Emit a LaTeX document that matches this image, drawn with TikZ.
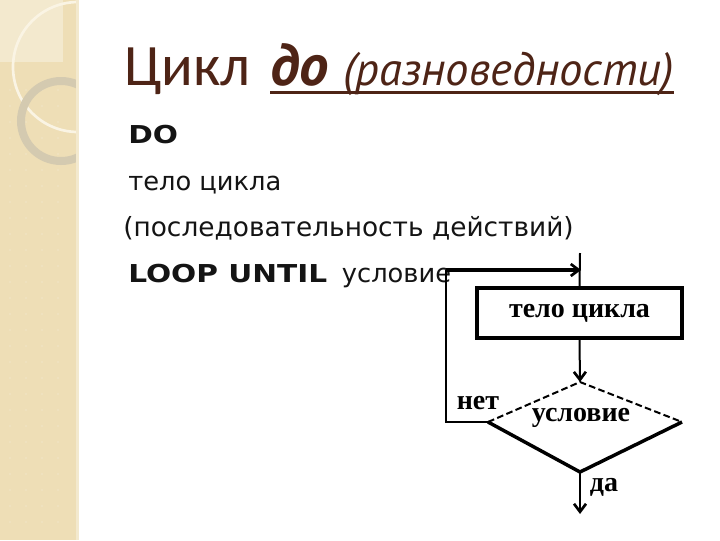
\documentclass[tikz,border=0pt]{standalone}
\usepackage{fontspec}
\usetikzlibrary{arrows.meta,calc}
\setmainfont{DejaVu Sans}
\newfontfamily\titlefont{Carlito}
\newfontfamily\titleital{PT Sans}
\newfontfamily\boldwide{DejaVu Sans}[FakeStretch=1.2]
\newfontfamily\chartfont{Liberation Serif}
\definecolor{stripe}{RGB}{238,222,182}
\definecolor{stripetop}{RGB}{243,233,206}
\definecolor{ringgrey}{RGB}{212,202,176}
\definecolor{ringwhite}{RGB}{250,244,228}
\definecolor{titlebrown}{RGB}{78,36,22}
\definecolor{bodyblack}{RGB}{20,20,20}
\tikzset{
  bodytext/.style={anchor=base west, inner sep=0pt, text=bodyblack, font=\fontsize{19.3}{19.3}\selectfont},
  titletext/.style={anchor=base west, inner sep=0pt, text=titlebrown},
  chartlabel/.style={inner sep=0pt, font=\chartfont\bfseries\fontsize{21}{21}\selectfont},
  thickline/.style={line width=3pt},
  thinline/.style={line width=1.5pt},
  vhead/.style={-{Straight Barb[length=6pt,width=9pt,line width=2pt]}},
}
\begin{document}
\begin{tikzpicture}[x=0.75pt,y=-0.75pt]
\useasboundingbox (0,0) rectangle (720,540);
\fill[white] (0,0) rectangle (720,540);
% left decorative stripe
\fill[stripe] (0,0) rectangle (78,540);
\fill[stripetop] (0,0) rectangle (63,62);
\foreach \xx in {10,26,42,58} {
  \foreach \yy in {90,106,...,530} {
    \fill[stripe!85!white] (\xx,\yy) circle[radius=1.2];
  }
}
\begin{scope}
  \clip (0,0) rectangle (78,540);
  \draw[ringwhite, line width=2pt] (78,67) circle[radius=65];
  \draw[ringgrey, line width=6pt] (61,121) circle[radius=40];
\end{scope}
\fill[stripetop] (76,0) rectangle (79,540);
% title
\node[titletext, font=\titlefont\fontsize{44}{44}\selectfont] (t1) at (124,85) {Цикл};
\node[titletext, font=\titleital\bfseries\itshape\fontsize{44}{44}\selectfont] (t2) at (270,85) {до};
\node[titletext, font=\titleital\itshape\fontsize{35}{35}\selectfont] (t3) at (343,85) {(разноведности)};
\draw[titlebrown, line width=2.25pt] ($(t2.base west)+(0,7)$) -- ($(t3.base east)+(0,7)$);
% body text
\node[bodytext, font=\boldwide\bfseries\fontsize{18.5}{18.5}\selectfont] (b1) at (128,143) {DO};
\node[bodytext] (b2) at (128,190) {тело цикла};
\node[bodytext, font=\fontsize{19.8}{19.8}\selectfont] (b3) at (123,236) {(последовательность действий)};
\node[bodytext] (b4) at (128,282) {{\boldwide\bfseries\fontsize{18.5}{18.5}\selectfont LOOP UNTIL}\hspace{0.25em} условие};
% flowchart
\node[draw, thickline, minimum width=153.75pt, minimum height=37.5pt, inner sep=0pt, chartlabel] (body) at (579.5,313) {тело цикла};
\coordinate (dt) at (580,382);
\coordinate (dl) at (488,422);
\coordinate (dr) at (682,422);
\coordinate (db) at (580,472);
\draw[thinline, dash pattern=on 5pt off 2.5pt] (dl) -- (dt) -- (dr);
\draw[line width=2.6pt, line join=round] (dl) -- (db) -- (dr);
\node[chartlabel] (cond) at (581,418) {условие};
\node[chartlabel] (no) at (478,403) {нет};
\node[chartlabel] (yes) at (604,487) {да};
\coordinate (vtop) at (580,253);
\coordinate (c1) at (446,422);
\coordinate (c2) at (446,270);
\coordinate (c3) at (581,270);
\coordinate (exit) at (580,514);
\draw[thinline] (vtop) -- (body.north);
\draw[thinline] (dl) -- (c1) -- (c2);
\draw[thickline, vhead] (c2) -- (c3);
\draw[thinline, vhead] (body.south) -- (dt);
\draw[thinline, vhead] (db) -- (exit);
\end{tikzpicture}
\end{document}
